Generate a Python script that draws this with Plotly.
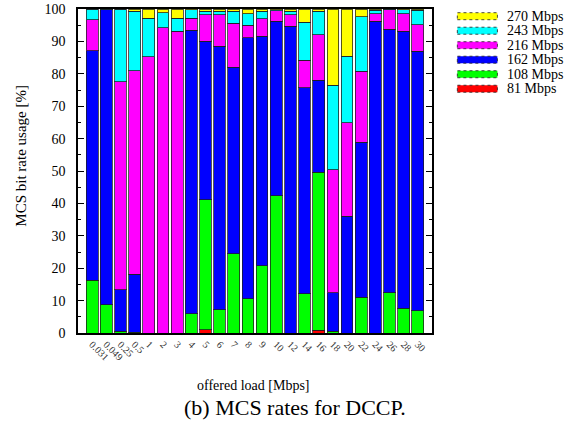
import plotly.graph_objects as go

# ---- data ----
loads = ["0.031", "0.049", "0.25", "0.5", "1", "2", "3", "4", "5", "6", "7", "8",
         "9", "10", "12", "14", "16", "18", "20", "22", "24", "26", "28", "30"]

mcs_81 = [0, 0, 0, 0, 0, 0, 0, 0, 1.0, 0, 0, 0, 0, 0, 0, 0, 0.8, 0, 0, 0, 0, 0, 0, 0]
mcs_108 = [16.3, 8.7, 0.5, 0.3, 0, 0, 0, 6.0, 40.2, 7.2, 24.4, 10.6, 20.8, 42.4, 0, 12.1,
           48.8, 0.5, 0, 11.1, 0, 12.5, 7.6, 6.8]
mcs_162 = [70.8, 91.0, 12.9, 17.9, 0, 0, 0, 87.5, 48.9, 81.3, 57.7, 80.5, 70.8, 53.8, 94.7,
           63.6, 28.4, 12.0, 36.0, 47.8, 96.2, 81.2, 85.5, 80.2]
mcs_216 = [9.6, 0.1, 64.1, 62.7, 85.2, 94.2, 93.1, 3.6, 8.2, 9.8, 13.5, 3.9, 5.4, 3.3, 3.6,
           8.5, 14.1, 37.9, 28.9, 21.9, 2.4, 6.1, 5.5, 8.2]
mcs_243 = [3.3, 0.2, 22.5, 18.4, 11.9, 4.6, 4.0, 2.6, 1.0, 1.0, 3.7, 3.5, 2.3, 0.2, 1.0,
           11.7, 7.2, 26.0, 20.5, 16.8, 1.0, 0.1, 1.2, 4.4]
mcs_270 = [0, 0, 0, 0.7, 2.9, 1.2, 2.9, 0.3, 0.7, 0.7, 0.7, 1.5, 0.7, 0.3, 0.7, 4.1, 0.7,
           23.6, 14.6, 2.4, 0.4, 0.1, 0.2, 0.4]

series_names = ["81 Mbps", "108 Mbps", "162 Mbps", "216 Mbps", "243 Mbps", "270 Mbps"]
series_values = [mcs_81, mcs_108, mcs_162, mcs_216, mcs_243, mcs_270]
series_colors = ["#FF0000", "#00FF00", "#0000FF", "#FF00FF", "#00FFFF", "#FFFF00"]

y_ticks = list(range(0, 101, 10))

FONT = "Liberation Serif"

fig = go.Figure()
for name, vals, col in zip(series_names, series_values, series_colors):
    fig.add_trace(go.Bar(
        x=loads, y=vals, name=name,
        marker=dict(color=col, line=dict(color="rgba(30,30,30,0.75)", width=1)),
        showlegend=False,
    ))

# plot-area geometry (pixels) used for paper-coordinate placement
L, R, T, B = 78.3, 431.7, 9.5, 333.3
W, H = R - L, B - T


def px(x):
    return (x - L) / W


def py(y):
    return (B - y) / H


shapes = []
annotations = []
# manual legend: top entry is the last series
legend_rows = [16.7, 31.2, 45.7, 60.2, 74.7, 89.2]
for row, idx in zip(legend_rows, range(len(series_names) - 1, -1, -1)):
    shapes.append(dict(type="rect", xref="paper", yref="paper",
                       x0=px(457), x1=px(497), y0=py(row + 3.5), y1=py(row - 3.5),
                       fillcolor=series_colors[idx],
                       line=dict(color="rgba(30,30,30,0.8)", width=1, dash="dot")))
    annotations.append(dict(xref="paper", yref="paper", x=px(505), y=py(row),
                            xanchor="left", yanchor="middle", showarrow=False,
                            text=series_names[idx],
                            font=dict(family=FONT, size=14, color="black")))

annotations.append(dict(xref="paper", yref="paper", x=px(254), y=py(386),
                        xanchor="center", yanchor="middle", showarrow=False,
                        text="offered load [Mbps]",
                        font=dict(family=FONT, size=14, color="black")))
annotations.append(dict(xref="paper", yref="paper", x=px(21), y=py(156.5),
                        xanchor="center", yanchor="middle", showarrow=False,
                        textangle=-90, text="MCS bit rate usage [%]",
                        font=dict(family=FONT, size=15, color="black")))
annotations.append(dict(xref="paper", yref="paper", x=px(295), y=py(408),
                        xanchor="center", yanchor="middle", showarrow=False,
                        text="(b) MCS rates for DCCP.",
                        font=dict(family=FONT, size=22, color="black")))

fig.update_layout(
    template="none",
    width=575, height=429,
    margin=dict(l=78, r=143, t=9, b=96, pad=0),
    barmode="stack", bargap=0.17,
    plot_bgcolor="white", paper_bgcolor="white",
    font=dict(family=FONT, color="black"),
    shapes=shapes, annotations=annotations,
    xaxis=dict(
        type="category", range=[-1, len(loads)], automargin=False,
        showline=True, linecolor="black", linewidth=1.5, mirror=True,
        showgrid=False, ticks="", tickangle=45,
        tickfont=dict(family=FONT, size=10, color="#333"),
    ),
    yaxis=dict(
        range=[0, 100], tickvals=y_ticks, automargin=False,
        showline=True, linecolor="black", linewidth=1.5, mirror="ticks",
        showgrid=False, zeroline=False,
        ticks="inside", ticklen=6, tickcolor="black",
        minor=dict(dtick=5, ticks="inside", ticklen=3, tickcolor="black"),
        tickfont=dict(family=FONT, size=14, color="black"),
        ticklabelstandoff=8,
    ),
)

fig.write_html("out.html")
